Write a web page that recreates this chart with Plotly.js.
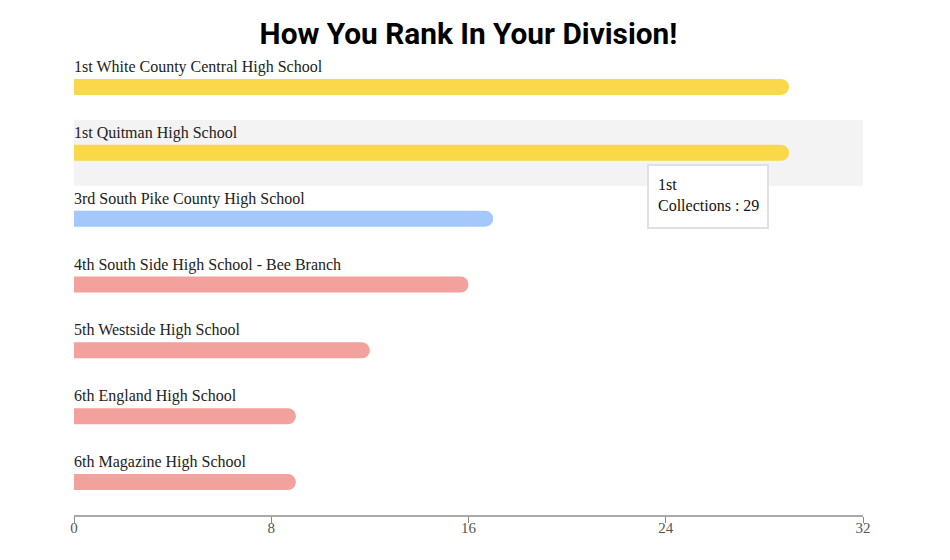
<!DOCTYPE html>
<html>
<head>
<meta charset="utf-8">
<script src="https://cdn.plot.ly/plotly-3.0.1.min.js"></script>
<style>html,body{margin:0;padding:0;background:#fff;}#chart{width:950px;height:560px;}</style>
</head>
<body>
<div id="chart"></div>
<script>
const ranks = ["1st", "1st", "3rd", "4th", "5th", "6th", "6th"];
const schools = ["White County Central High School", "Quitman High School", "South Pike County High School", "South Side High School - Bee Branch", "Westside High School", "England High School", "Magazine High School"];
const collections = [29, 29, 17, 16, 12, 9, 9];
const barColors = ["#f9d949", "#f9d949", "#a4c8fb", "#f2a19c", "#f2a19c", "#f2a19c", "#f2a19c"];
const tickVals = [0, 8, 16, 24, 32];
const highlightIndex = 1;

const labels = ranks.map((r, i) => r + " " + schools[i]);

const trace = {
  type: "bar",
  orientation: "h",
  x: collections,
  y: labels,
  width: 0.243,
  marker: {color: barColors, cornerradius: 8},
  hoverinfo: "none"
};

const serif = "Liberation Serif, Times New Roman, serif";

const annotations = labels.map((l, i) => ({
  xref: "x", yref: "y", x: 0, y: l,
  text: l, showarrow: false, xanchor: "left", yanchor: "middle",
  yshift: 20, xshift: -2,
  font: {family: serif, size: 16, color: "#222"}
}));

const tipLines = [ranks[highlightIndex], "Collections : " + collections[highlightIndex]];
const tipY = [0.718, 0.6703];
tipLines.forEach((t, k) => annotations.push({
  xref: "paper", yref: "paper", x: 0.7402, y: tipY[k],
  xanchor: "left", yanchor: "middle", showarrow: false, xshift: -2,
  text: t, font: {family: serif, size: 16, color: "#111"}
}));

const layout = {
  width: 950, height: 560,
  margin: {l: 74, r: 87, t: 54, b: 45},
  paper_bgcolor: "#fff", plot_bgcolor: "#fff",
  title: {text: "<b>How You Rank In Your Division!</b>", x: 0.5, xref: "paper", y: 0.94, yanchor: "middle",
    font: {family: "Roboto, sans-serif", size: 29.8, color: "#000"}},
  showlegend: false,
  xaxis: {range: [0, 32], tickvals: tickVals, showgrid: false, zeroline: false,
    showline: true, linecolor: "#aaa", linewidth: 2, ticks: "outside", ticklen: 6, tickcolor: "#888", tickwidth: 1,
    ticklabelstandoff: -8,
    tickfont: {family: serif, size: 15, color: "#555"}, fixedrange: true},
  yaxis: {autorange: "reversed", showticklabels: false, showgrid: false, zeroline: false, showline: false, ticks: ""},
  shapes: [
    {type: "rect", xref: "paper", yref: "y", x0: 0, x1: 1, y0: highlightIndex - 0.5, y1: highlightIndex + 0.5,
      fillcolor: "#f3f3f3", line: {width: 0}, layer: "below"},
    {type: "rect", xref: "paper", yref: "paper", x0: 0.7275, x1: 0.8796, y0: 0.6226, y1: 0.7592,
      fillcolor: "#fff", line: {color: "#e0e0e0", width: 2}, layer: "above"}
  ],
  annotations: annotations,
  bargap: 0.75
};

Plotly.newPlot("chart", [trace], layout, {displayModeBar: false, staticPlot: true});
</script>
</body>
</html>
